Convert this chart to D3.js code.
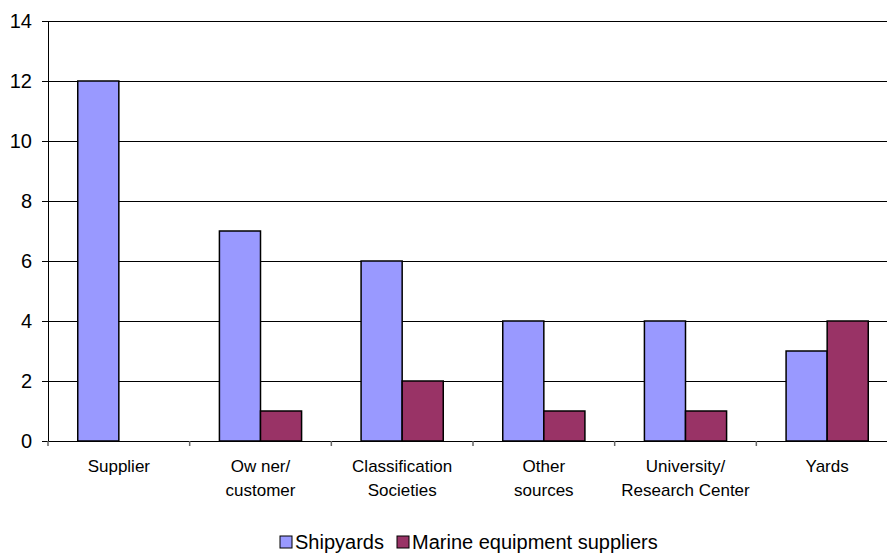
<!DOCTYPE html>
<html>
<head>
<meta charset="utf-8">
<script src="https://cdn.jsdelivr.net/npm/d3@7"></script>
<style>
  body { margin: 0; background: #fff; }
  svg { display: block; font-family: "Liberation Sans", Arial, sans-serif; }
</style>
</head>
<body>
<svg id="chart" width="887" height="554"></svg>
<script>
// Sources of information, counted per respondent group
const categories = [["Supplier"], ["Ow ner/", "customer"], ["Classification", "Societies"], ["Other", "sources"], ["University/", "Research Center"], ["Yards"]];
const seriesNames = ["Shipyards", "Marine equipment suppliers"];
const shipyards = [12, 7, 6, 4, 4, 3];
const marineSuppliers = [0, 1, 2, 1, 1, 4];
const yTicks = [0, 2, 4, 6, 8, 10, 12, 14];
const colors = ["#9999FF", "#993366"];

const svg = d3.select("#chart");
const margin = { left: 48, top: 21, bottom: 441 };
const plotRight = 898; // the last category runs past the visible edge

const keys = categories.map((c, i) => i);
const x0 = d3.scaleBand().domain(keys).range([margin.left, plotRight]).paddingInner(0.42).paddingOuter(0.21);
const x1 = d3.scaleBand().domain([0, 1]).range([0, x0.bandwidth()]);
const y = d3.scaleLinear().domain([0, 14]).range([margin.bottom, margin.top]);
const step = x0.step();

// horizontal gridlines
svg.append("g").selectAll("line").data(yTicks.filter(d => d > 0)).join("line")
  .attr("x1", margin.left).attr("x2", plotRight)
  .attr("y1", d => y(d)).attr("y2", d => y(d))
  .attr("stroke", "#000").attr("stroke-width", 1).attr("shape-rendering", "crispEdges");

// y axis
const yAxis = svg.append("g").attr("transform", `translate(${margin.left},0)`)
  .call(d3.axisLeft(y).tickValues(yTicks).tickSize(6).tickPadding(10).tickFormat(d3.format("d")));
yAxis.select(".domain").attr("stroke", "#000").attr("shape-rendering", "crispEdges");
yAxis.selectAll(".tick line").attr("stroke", "#000").attr("shape-rendering", "crispEdges");
yAxis.selectAll("text").attr("font-size", 20).attr("fill", "#000").attr("font-family", "Liberation Sans, Arial, sans-serif");

// bars
const data = keys.map(i => [shipyards[i], marineSuppliers[i]]);
const groups = svg.append("g").selectAll("g").data(data).join("g")
  .attr("transform", (d, i) => `translate(${x0(i)},0)`);
groups.selectAll("rect").data(d => d.map((v, s) => ({ v, s }))).join("rect")
  .filter(d => d.v > 0)
  .attr("x", d => x1(d.s))
  .attr("width", x1.bandwidth())
  .attr("y", d => y(d.v))
  .attr("height", d => y(0) - y(d.v))
  .attr("fill", d => colors[d.s])
  .attr("stroke", "#000").attr("stroke-width", 1.5);

// x axis with ticks on category boundaries
const xAxis = svg.append("g");
xAxis.append("line").attr("x1", margin.left).attr("x2", plotRight)
  .attr("y1", y(0)).attr("y2", y(0)).attr("stroke", "#000").attr("shape-rendering", "crispEdges");
xAxis.selectAll(".bt").data(d3.range(keys.length + 1)).join("line").attr("class", "bt")
  .attr("x1", i => margin.left + i * step).attr("x2", i => margin.left + i * step)
  .attr("y1", y(0)).attr("y2", y(0) + 5)
  .attr("stroke", "#666").attr("stroke-width", 1.5);

// category labels
const labels = svg.append("g").selectAll("text").data(categories).join("text")
  .attr("x", (d, i) => x0(i) + x0.bandwidth() / 2)
  .attr("y", 472)
  .attr("text-anchor", "middle").attr("font-size", 17).attr("fill", "#000");
labels.selectAll("tspan").data(d => d).join("tspan")
  .attr("x", function () { return this.parentNode.getAttribute("x"); })
  .attr("dy", (d, i) => i === 0 ? 0 : 24)
  .text(d => d);

// legend
const legend = svg.append("g").attr("transform", "translate(280,541)");
const legendX = [0, 117];
seriesNames.forEach((name, i) => {
  const g = legend.append("g").attr("transform", `translate(${legendX[i]},0)`);
  g.append("rect").attr("x", 0).attr("y", -5).attr("width", 12).attr("height", 12)
    .attr("fill", colors[i]).attr("stroke", "#000").attr("stroke-width", 1);
  g.append("text").attr("x", 15).attr("y", 8).attr("font-size", 20).attr("fill", "#000").text(name);
});
</script>
</body>
</html>
